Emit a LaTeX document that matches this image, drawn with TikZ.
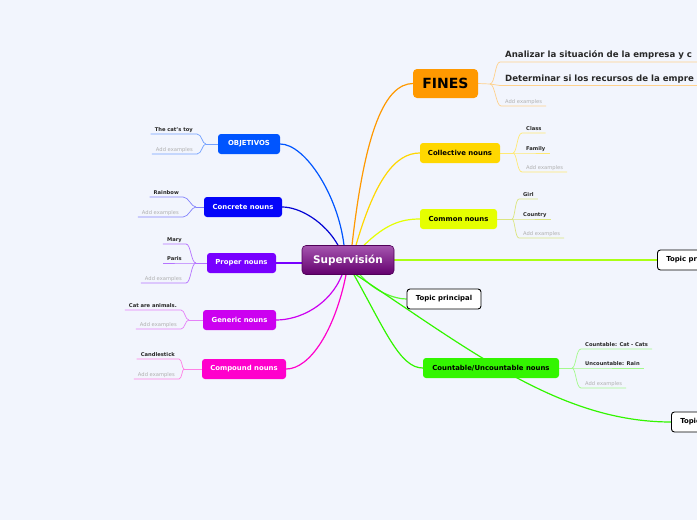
\documentclass[tikz,border=0pt]{standalone}
\usepackage{fontspec}
\setmainfont{DejaVu Sans}
\usetikzlibrary{backgrounds}
\definecolor{bgc}{RGB}{242,245,253}
\definecolor{cobj}{RGB}{0,85,255}
\definecolor{cconc}{RGB}{5,5,250}
\definecolor{cprop}{RGB}{120,0,255}
\definecolor{cgen}{RGB}{204,0,240}
\definecolor{ccomp}{RGB}{255,0,204}
\definecolor{cfin}{RGB}{255,153,0}
\definecolor{ccoll}{RGB}{255,215,0}
\definecolor{ccomm}{RGB}{229,255,0}
\definecolor{clime}{RGB}{170,255,20}
\definecolor{cgreen}{RGB}{51,245,0}
\definecolor{csupt}{RGB}{165,85,175}
\definecolor{csupb}{RGB}{100,0,110}
\definecolor{ctxt}{RGB}{40,40,40}
\definecolor{cadd}{RGB}{175,175,175}
\tikzset{
 mainbox/.style={rounded corners=3pt, minimum height=20pt, inner sep=0pt, font=\fontsize{6.9}{8}\selectfont\bfseries},
 wbox/.style={mainbox, text=white},
 topicbox/.style={mainbox, fill=white, draw=black, line width=0.9pt, minimum width=74pt},
 sub/.style={inner xsep=4pt, inner ysep=1.5pt, text height=4pt, text depth=1pt, font=\fontsize{5.2}{6}\selectfont\bfseries, text=ctxt},
 addex/.style={sub, font=\fontsize{5.2}{6}\selectfont, text=cadd},
 bigsub/.style={inner xsep=5pt, inner ysep=2pt, text height=6.3pt, text depth=1.9pt, font=\fontsize{8.6}{10}\selectfont\bfseries, text=ctxt},
 conn/.style={line width=1.2pt},
 subline/.style={line width=0.7pt},
}
\begin{document}
\begin{tikzpicture}[x=1pt,y=-1pt]
\useasboundingbox (0,0) rectangle (697,520);

% central node
\node[rounded corners=4pt, top color=csupt, bottom color=csupb, draw=csupb!80!black, line width=0.6pt,
  minimum width=92pt, minimum height=29pt, inner sep=0pt, text=white,
  font=\fontsize{10.5}{12}\selectfont\bfseries] (sup) at (348,260) {Supervisión};

% left main nodes
\node[wbox, fill=cobj, minimum width=62pt] (obj) at (249,144) {OBJETIVOS};
\node[wbox, fill=cconc, minimum width=78pt] (conc) at (243,207) {Concrete nouns};
\node[wbox, fill=cprop, minimum width=69pt] (prop) at (241.5,263) {Proper nouns};
\node[wbox, fill=cgen, minimum width=73pt] (gen) at (239.5,320) {Generic nouns};
\node[wbox, fill=ccomp, minimum width=84pt] (comp) at (244,369) {Compound nouns};

% right main nodes
\node[rounded corners=4pt, fill=cfin, minimum width=65pt, minimum height=29pt, inner sep=0pt,
  font=\fontsize{14}{16}\selectfont\bfseries] (fin) at (445.5,83.5) {FINES};
\node[mainbox, fill=ccoll, minimum width=80pt] (coll) at (460,153) {Collective nouns};
\node[mainbox, fill=ccomm, minimum width=77pt] (comm) at (458.5,219) {Common nouns};
\node[mainbox, fill=cgreen, minimum width=136pt] (count) at (491,368) {Countable/Uncountable nouns};
\node[topicbox, anchor=west] (topr) at (657,260) {Topic principal};
\node[topicbox] (topm) at (444,299) {Topic principal};
\node[topicbox, anchor=west] (topb) at (671,422) {Topic principal};

% sub items left
\coordinate (fo) at (206,144);
\node[sub, anchor=south east] (o1) at (197,134) {The cat's toy};
\node[addex, anchor=south east] (o2) at (197,154) {Add examples};
\coordinate (fc) at (196,207);
\node[sub, anchor=south east] (c1) at (183,197) {Rainbow};
\node[addex, anchor=south east] (c2) at (183,217) {Add examples};
\coordinate (fp) at (196,263);
\node[sub, anchor=south east] (p1) at (186,244) {Mary};
\node[sub, anchor=south east] (p2) at (186,263) {Paris};
\node[addex, anchor=south east] (p3) at (186,283) {Add examples};
\coordinate (fg) at (189,320);
\node[sub, anchor=south east] (g1) at (181,310) {Cat are animals.};
\node[addex, anchor=south east] (g2) at (181,329) {Add examples};
\coordinate (fm) at (184,369);
\node[sub, anchor=south east] (m1) at (179,359) {Candlestick};
\node[addex, anchor=south east] (m2) at (179,379) {Add examples};

% sub items right
\coordinate (ff) at (490,84);
\node[bigsub, anchor=south west] (f1) at (500,62) {Analizar la situación de la empresa y c};
\node[bigsub, anchor=south west] (f2) at (500,85.5) {Determinar si los recursos de la empre};
\node[addex, anchor=south west] (f3) at (501,106) {Add examples};
\coordinate (fl) at (513,153);
\node[sub, anchor=south west] (l1) at (522,133) {Class};
\node[sub, anchor=south west] (l2) at (522,153) {Family};
\node[addex, anchor=south west] (l3) at (522,172) {Add examples};
\coordinate (fk) at (512,219);
\node[sub, anchor=south west] (k1) at (519,199) {Girl};
\node[sub, anchor=south west] (k2) at (519,219) {Country};
\node[addex, anchor=south west] (k3) at (519,238) {Add examples};
\coordinate (fu) at (572,368);
\node[sub, anchor=south west] (u1) at (581,349) {Countable: Cat - Cats};
\node[sub, anchor=south west] (u2) at (581,368) {Uncountable: Rain};
\node[addex, anchor=south west] (u3) at (581,388) {Add examples};

\begin{scope}[on background layer]
\fill[bgc] (0,0) rectangle (697,520);
% main connectors
\draw[conn, cobj] ([xshift=-4pt]sup.north) .. controls (338,195) and (305,144) .. (obj.east);
\draw[conn, cconc!85!black] ([xshift=-10pt]sup.north) .. controls (325,222) and (300,207) .. (conc.east);
\draw[conn, cprop] (prop.east) -- (prop.east -| sup.west);
\draw[conn, cgen] ([xshift=-6pt]sup.south) .. controls (330,305) and (300,320) .. (gen.east);
\draw[conn, ccomp] ([xshift=-2pt]sup.south) .. controls (335,330) and (310,369) .. (comp.east);
\draw[conn, cfin] ([xshift=4pt]sup.north) .. controls (365,130) and (385,84) .. (fin.west);
\draw[conn, ccoll] ([xshift=8pt]sup.north) .. controls (375,180) and (395,153) .. (coll.west);
\draw[conn, ccomm] ([xshift=16pt]sup.north) .. controls (385,225) and (400,219) .. (comm.west);
\draw[conn, clime] (sup.east) -- (topr.west);
\draw[conn, cgreen!80!white] ([xshift=12pt]sup.south) .. controls (375,292) and (395,299) .. (topm.west);
\draw[conn, cgreen] ([xshift=6pt]sup.south) .. controls (385,330) and (400,368) .. (count.west);
\draw[conn, cgreen] ([xshift=8pt]sup.south) .. controls (470,350) and (560,422) .. (topb.west);

% left sub lines
\begin{scope}[subline, cobj!55!white]
\draw (obj.west) -- (fo);
\draw (fo) .. controls +(-4,0) and +(5,0) .. (o1.south east) -- (o1.south west);
\draw (fo) .. controls +(-4,0) and +(5,0) .. (o2.south east) -- (o2.south west);
\end{scope}
\begin{scope}[subline, cconc!50!white]
\draw (conc.west) -- (fc);
\draw (fc) .. controls +(-5,0) and +(6,0) .. (c1.south east) -- (c1.south west);
\draw (fc) .. controls +(-5,0) and +(6,0) .. (c2.south east) -- (c2.south west);
\end{scope}
\begin{scope}[subline, cprop!55!white]
\draw (prop.west) -- (fp);
\draw (fp) .. controls +(-5,0) and +(5,0) .. (p1.south east) -- (p1.south west);
\draw (fp) -- (p2.south east) -- (p2.south west);
\draw (fp) .. controls +(-5,0) and +(5,0) .. (p3.south east) -- (p3.south west);
\end{scope}
\begin{scope}[subline, cgen!50!white]
\draw (gen.west) -- (fg);
\draw (fg) .. controls +(-4,0) and +(4,0) .. (g1.south east) -- (g1.south west);
\draw (fg) .. controls +(-4,0) and +(4,0) .. (g2.south east) -- (g2.south west);
\end{scope}
\begin{scope}[subline, ccomp!50!white]
\draw (comp.west) -- (fm);
\draw (fm) .. controls +(-2,0) and +(3,0) .. (m1.south east) -- (m1.south west);
\draw (fm) .. controls +(-2,0) and +(3,0) .. (m2.south east) -- (m2.south west);
\end{scope}

% right sub lines
\begin{scope}[subline, cfin!45!white]
\draw (fin.east) -- (ff);
\draw (ff) .. controls +(5,0) and +(-5,0) .. (f1.south west) -- (f1.south east);
\draw (ff) .. controls +(5,0) and +(-5,0) .. (f2.south west) -- (f2.south east);
\draw (ff) .. controls +(5,0) and +(-5,0) .. (f3.south west) -- (f3.south east);
\end{scope}
\begin{scope}[subline, ccoll!55!white]
\draw (coll.east) -- (fl);
\draw (fl) .. controls +(4,0) and +(-5,0) .. (l1.south west) -- (l1.south east);
\draw (fl) -- (l2.south west) -- (l2.south east);
\draw (fl) .. controls +(4,0) and +(-5,0) .. (l3.south west) -- (l3.south east);
\end{scope}
\begin{scope}[subline, ccomm!80!black!50!white]
\draw (comm.east) -- (fk);
\draw (fk) .. controls +(3,0) and +(-4,0) .. (k1.south west) -- (k1.south east);
\draw (fk) -- (k2.south west) -- (k2.south east);
\draw (fk) .. controls +(3,0) and +(-4,0) .. (k3.south west) -- (k3.south east);
\end{scope}
\begin{scope}[subline, cgreen!45!white]
\draw (count.east) -- (fu);
\draw (fu) .. controls +(4,0) and +(-5,0) .. (u1.south west) -- (u1.south east);
\draw (fu) -- (u2.south west) -- (u2.south east);
\draw (fu) .. controls +(4,0) and +(-5,0) .. (u3.south west) -- (u3.south east);
\end{scope}
\end{scope}
\end{tikzpicture}
\end{document}
